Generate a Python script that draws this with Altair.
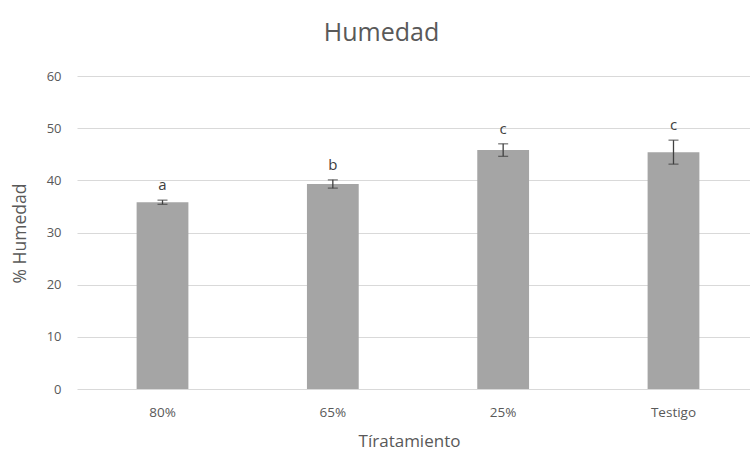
import altair as alt
import pandas as pd

categories = ["80%", "65%", "25%", "Testigo"]
values = [35.8, 39.3, 45.8, 45.4]
errors = [0.4, 0.8, 1.2, 2.3]
letters = ["a", "b", "c", "c"]

df = pd.DataFrame({
    "cat": categories,
    "val": values,
    "err": errors,
    "letter": letters,
})
df["lo"] = df["val"] - df["err"]
df["hi"] = df["val"] + df["err"]

FONT = "Open Sans"
GRAY = "#595959"

xscale = alt.Scale(domain=categories, range=[0, 682], paddingInner=0.696, paddingOuter=0.35)
yscale = alt.Scale(domain=[0, 60])

x_axis = alt.Axis(title="Tíratamiento", labelAngle=0, domain=False, ticks=False,
                  labelPadding=16, labelFont=FONT, labelFontSize=13.5, labelColor=GRAY,
                  titleFont=FONT, titleFontSize=17, titleColor=GRAY, titleFontWeight="normal",
                  titleX=332, titleY=52, titleAlign="center", titleBaseline="middle", grid=False)
y_axis = alt.Axis(title="% Humedad", values=[0, 10, 20, 30, 40, 50, 60], domain=False, ticks=False,
                  labelPadding=16, labelFont=FONT, labelFontSize=13, labelColor=GRAY,
                  grid=True, gridColor="#D9D9D9", gridWidth=1,
                  titleFont=FONT, titleFontSize=17.5, titleColor=GRAY, titleFontWeight="normal",
                  titleX=-57, titleY=157, titleAngle=-90, titleAlign="center",
                  titleBaseline="middle")

x_enc = alt.X("cat:N", scale=xscale, sort=categories, axis=x_axis)

bars = alt.Chart(df).mark_bar(color="#A5A5A5").encode(
    x=x_enc,
    y=alt.Y("val:Q", scale=yscale, axis=y_axis),
)

rule = alt.Chart(df).mark_rule(color="#404040", strokeWidth=1.3).encode(
    x=x_enc,
    y=alt.Y("lo:Q", scale=yscale, axis=y_axis),
    y2="hi:Q",
)
caps_lo = alt.Chart(df).mark_tick(color="#404040", thickness=1.3, size=10, orient="horizontal").encode(
    x=x_enc,
    y=alt.Y("lo:Q", scale=yscale, axis=y_axis),
)
caps_hi = alt.Chart(df).mark_tick(color="#404040", thickness=1.3, size=10, orient="horizontal").encode(
    x=x_enc,
    y=alt.Y("hi:Q", scale=yscale, axis=y_axis),
)
text = alt.Chart(df).mark_text(font=FONT, fontSize=15, color="#404040", baseline="bottom", dy=-7).encode(
    x=x_enc,
    y=alt.Y("hi:Q", scale=yscale, axis=y_axis),
    text="letter:N",
)

chart = alt.layer(bars, rule, caps_lo, caps_hi, text).properties(
    width=673, height=313,
    autosize="none",
    padding={"left": 77, "top": 76, "right": 0, "bottom": 64},
    title=alt.TitleParams("Humedad", font=FONT, fontSize=25, color=GRAY, fontWeight="normal",
                          anchor="middle", dx=-32, offset=24),
).configure(background="white").configure_view(stroke=None, strokeWidth=0)

chart.save("out.html", embed_options={"renderer": "svg", "actions": False})
